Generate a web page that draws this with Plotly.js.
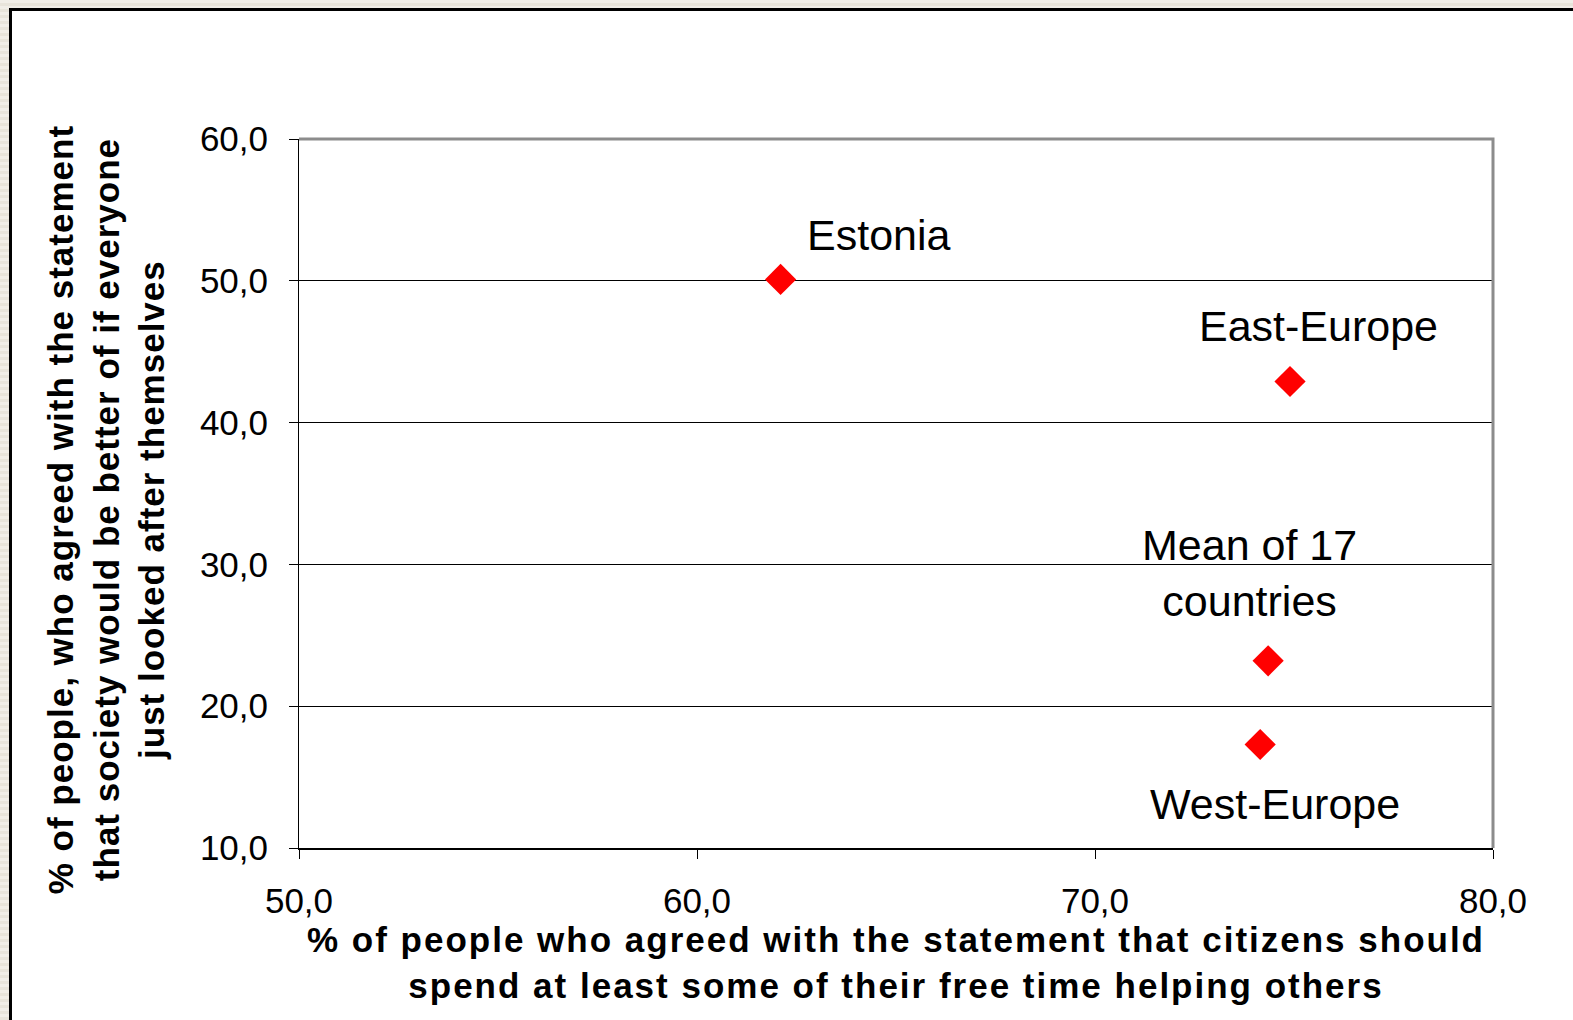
<!DOCTYPE html>
<html>
<head>
<meta charset="utf-8">
<script src="https://cdn.plot.ly/plotly-3.0.1.min.js"></script>
<style>
  html, body { margin: 0; padding: 0; width: 1573px; height: 1020px; overflow: hidden;
    background: repeating-linear-gradient(0deg, #e8e4da 0px, #e8e4da 3px, #f1eee7 3px, #f1eee7 6px); }
  #frame { position: absolute; left: 9px; top: 8px; width: 1564px; height: 1012px;
    border-left: 3px solid #000; border-top: 3px solid #000; background: #fff; }
  #chart { width: 1561px; height: 1009px; }
  .xtitle { letter-spacing: 2px; }
  .ytitle { letter-spacing: 1px; }
</style>
</head>
<body>
<div id="frame"><div id="chart"></div></div>
<script>
// Data
const regions = ["Estonia", "East-Europe", "Mean of 17<br>countries", "West-Europe"];
const helpOthers = [62.1, 74.9, 74.35, 74.15];     // x: % agree citizens should help others
const lookAfterSelf = [50.1, 42.9, 23.2, 17.3];    // y: % agree society better if everyone looked after themselves
const xTicks = [50, 60, 70, 80];
const xTickText = ["50,0", "60,0", "70,0", "80,0"];
const yTicks = [10, 20, 30, 40, 50, 60];
const yTickText = ["10,0", "20,0", "30,0", "40,0", "50,0", "60,0"];

// label placement (pixel offsets from each point)
const labelShift = [[98, 44], [28, 55], [-19, 88], [15, -60]];

const font = "Liberation Sans, Arial, sans-serif";
const pad = "&nbsp;&nbsp;&nbsp;";

const trace = {
  type: "scatter",
  mode: "markers",
  x: helpOthers,
  y: lookAfterSelf,
  marker: { symbol: "diamond", size: 24, color: "#ff0000", line: { width: 0 } },
  hoverinfo: "skip",
  cliponaxis: false
};

const annotations = regions.map((r, i) => ({
  x: helpOthers[i], y: lookAfterSelf[i], xref: "x", yref: "y",
  text: r, showarrow: false,
  xshift: labelShift[i][0], yshift: labelShift[i][1],
  font: { family: font, size: 43, color: "#000" },
  xanchor: "center", yanchor: "middle", align: "center"
}));

const layout = {
  width: 1561, height: 1009,
  margin: { l: 287, r: 80, t: 128, b: 172 },
  paper_bgcolor: "#fff", plot_bgcolor: "#fff",
  showlegend: false,
  font: { family: font, color: "#000" },
  xaxis: {
    range: [50, 80], tickvals: xTicks, ticktext: xTickText,
    showgrid: false, zeroline: false,
    showline: true, linecolor: "#000", linewidth: 2,
    ticks: "outside", ticklen: 9, tickcolor: "#000", tickwidth: 1,
    ticklabelstandoff: 12,
    tickfont: { family: font, size: 35, color: "#000" },
    title: {
      text: "<b>% of people who agreed with the statement that citizens should<br>spend at least some of their free time helping others</b>",
      font: { family: font, size: 35, color: "#000" }, standoff: 8
    }
  },
  yaxis: {
    range: [10, 60], tickvals: yTicks, ticktext: yTickText,
    showgrid: true, gridcolor: "#000", gridwidth: 1,
    zeroline: false,
    showline: true, linecolor: "#000", linewidth: 1,
    ticks: "outside", ticklen: 9, tickcolor: "#000", tickwidth: 1,
    ticklabelstandoff: 14,
    tickfont: { family: font, size: 35, color: "#000" },
    title: {
      text: "<b>% of people, who agreed with the statement" + pad + "<br>that society would be better of if everyone" + pad + "<br>just looked after themselves" + pad + "</b>",
      font: { family: font, size: 35, color: "#000" }, standoff: 24
    }
  },
  shapes: [{
    type: "path", xref: "paper", yref: "paper",
    path: "M0,1 L1,1 L1,0",
    line: { color: "#8c8c8c", width: 3 }
  }],
  annotations: annotations
};

Plotly.newPlot("chart", [trace], layout, { displayModeBar: false, staticPlot: true });
</script>
</body>
</html>
